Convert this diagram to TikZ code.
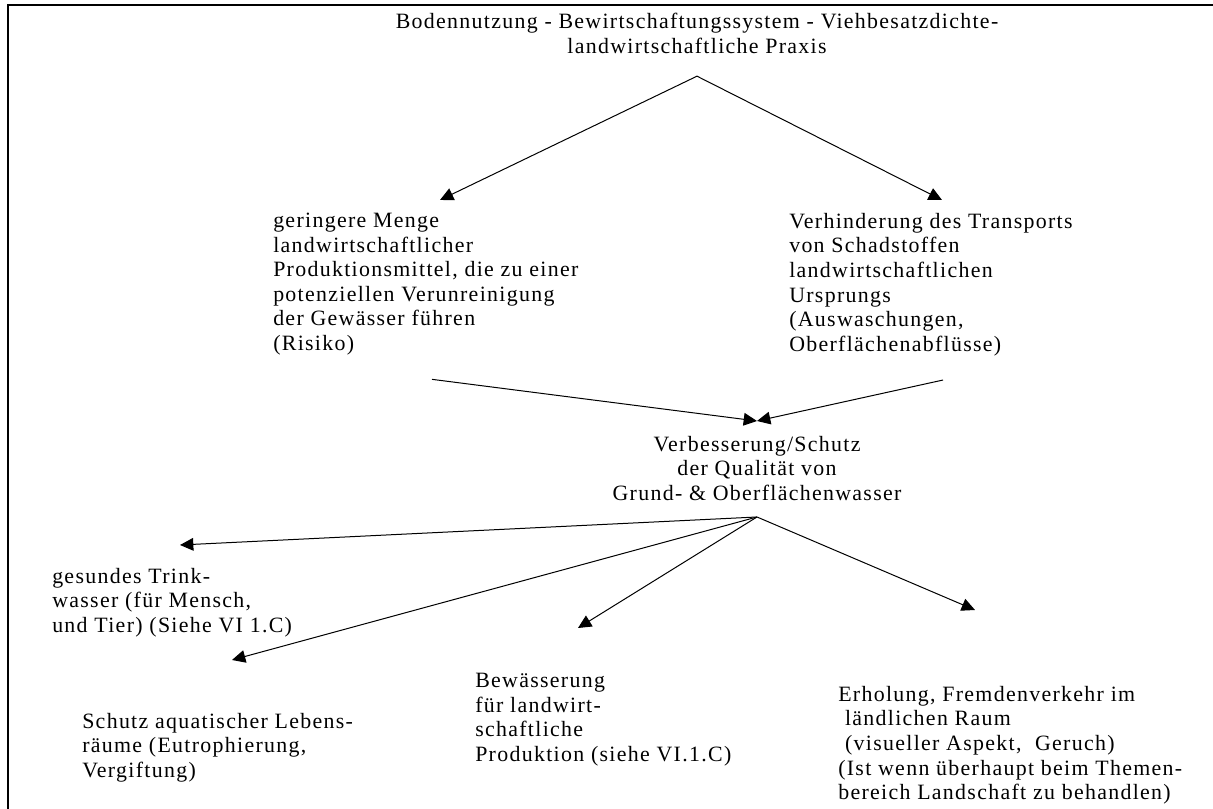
\documentclass[tikz,border=0pt]{standalone}
\usepackage{fontspec}
\setmainfont{Liberation Serif}[LetterSpace=6, Ligatures={TeX,NoCommon}]
\usetikzlibrary{arrows.meta, calc}

\begin{document}
\begin{tikzpicture}[
  x=0.75pt, y=-0.75pt,
  txt/.style={inner sep=0pt, align=left, font=\fontsize{16.4pt}{18.4pt}\selectfont},
  ctxt/.style={txt, align=center, anchor=north},
  arrow/.style={-{Triangle[length=10pt, width=9.5pt]}, line width=0.75pt}
]
\useasboundingbox (0,0) rectangle (1213,809);
\draw[line width=0.9pt] (8,5) rectangle (1240,840);

\node (landuse) [ctxt] at (697,13) {Bodennutzung - Bewirtschaftungssystem - Viehbesatzdichte-\\landwirtschaftliche Praxis};
\node (reduce) [txt, anchor=north west] at (273,213) {geringere Menge\\landwirtschaftlicher\\Produktionsmittel, die zu einer\\potenziellen Verunreinigung\\der Gewässer führen\\(Risiko)};
\node (prevent) [txt, anchor=north west] at (789,213) {Verhinderung des Transports\\von Schadstoffen\\landwirtschaftlichen\\Ursprungs\\(Auswaschungen,\\Oberflächenabflüsse)};
\node (quality) [ctxt] at (757,436) {Verbesserung/Schutz\\der Qualität von\\Grund- \& Oberflächenwasser};
\node (drink) [txt, anchor=north west] at (52,568) {gesundes Trink-\\wasser (für Mensch,\\und Tier) (Siehe VI 1.C)};
\node (habitat) [txt, anchor=north west] at (82,713) {Schutz aquatischer Lebens-\\räume (Eutrophierung,\\Vergiftung)};
\node (irrigation) [txt, anchor=north west] at (475,673) {Bewässerung\\für landwirt-\\schaftliche\\Produktion (siehe VI.1.C)};
\node (recreation) [txt, anchor=north west] at (838,686) {Erholung, Fremdenverkehr im\\\ ländlichen Raum\\\ (visueller Aspekt,\ \ Geruch)\\(Ist wenn überhaupt beim Themen-\\bereich Landschaft zu behandlen)};

\draw [arrow] ($(landuse.south)+(0,22.5)$) -- ($(reduce.north west)+(167,-13)$);
\draw [arrow] ($(landuse.south)+(0,22.5)$) -- ($(prevent.north west)+(153,-13)$);
\draw [arrow] ($(reduce.south west)+(159,24)$) -- ($(quality.north)+(0,-15)$);
\draw [arrow] ($(prevent.south west)+(154,24)$) -- ($(quality.north)+(0,-15)$);
\draw [arrow] ($(quality.south)+(0,16)$) -- ($(drink.north west)+(128,-23)$);
\draw [arrow] ($(quality.south)+(0,16)$) -- ($(habitat.north west)+(150,-53)$);
\draw [arrow] ($(quality.south)+(0,16)$) -- ($(irrigation.north west)+(103,-45)$);
\draw [arrow] ($(quality.south)+(0,16)$) -- ($(recreation.north west)+(137,-76)$);

\end{tikzpicture}
\end{document}
